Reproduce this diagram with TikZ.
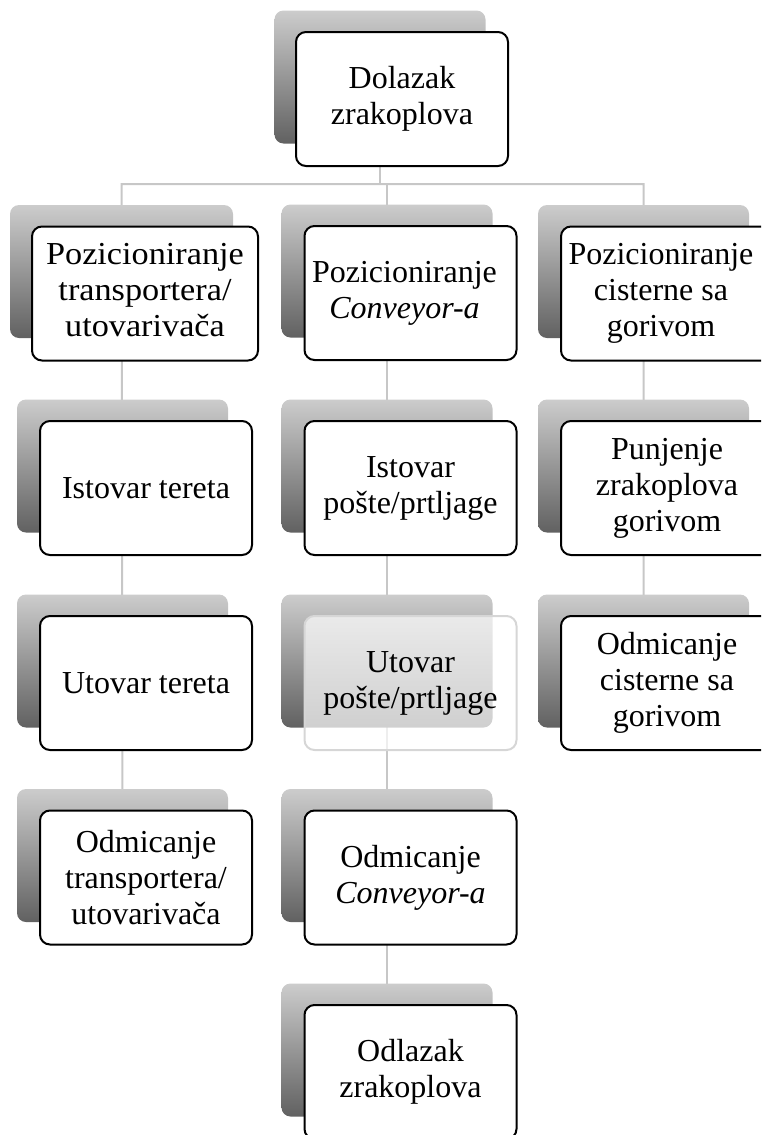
\documentclass[tikz,border=0pt]{standalone}
\usepackage{graphicx}
\usepackage{fontspec}
\setmainfont{Liberation Serif}
\pgfdeclarelayer{linelayer}
\pgfdeclarelayer{shadowlayer}
\pgfsetlayers{linelayer,shadowlayer,main}
\tikzset{
  box/.style={draw=black, line width=2pt, rounded corners=10pt, fill=white,
    minimum width=212pt, minimum height=134pt, inner sep=0pt, align=center,
    font=\fontsize{32}{36}\selectfont},
  ghost/.style={box, draw=black!16, fill opacity=0.7, text opacity=1},
  shadowbox/.style={rounded corners=9pt, top color=black!20, bottom color=black!62,
    minimum width=211pt, minimum height=133pt, inner sep=0pt, draw=none},
  conn/.style={draw=black!22, line width=2pt},
}
\newcommand\mylinepull{\hspace*{-12pt}}
\begin{document}
\begin{tikzpicture}[x=1pt,y=-1pt]
\clip (0,0) rectangle (761,1135);
\node[box] (top) at (402,99) {Dolazak\\zrakoplova};
\node[box, minimum width=226pt] (a1) at (145,293.5)
  {\scalebox{1.07}[1]{\begin{tabular}{@{}c@{}}Pozicioniranje\\transportera/\\utovarivača\end{tabular}}};
\node[box] (a2) at (146,488) {Istovar tereta};
\node[box] (a3) at (146,683) {Utovar tereta};
\node[box] (a4) at (146,877.5) {Odmicanje\\transportera/\\utovarivača};
\node[box] (b1) at (410.5,293) {\mylinepull Pozicioniranje\\\mylinepull\textit{Conveyor-a}};
\node[box] (b2) at (410.5,488) {Istovar\\pošte/prtljage};
\node[ghost] (b3) at (410.5,683) {Utovar\\pošte/prtljage};
\node[box] (b4) at (410.5,877.5) {Odmicanje\\\textit{Conveyor-a}};
\node[box] (b5) at (410.5,1072) {Odlazak\\zrakoplova};
\node[box] (c1) at (667,293.5) {\mylinepull Pozicioniranje\\\mylinepull cisterne sa\\\mylinepull gorivom};
\node[box] (c2) at (667,488) {Punjenje\\zrakoplova\\gorivom};
\node[box] (c3) at (667,683) {Odmicanje\\cisterne sa\\gorivom};
\begin{pgfonlayer}{shadowlayer}
\node[shadowbox] (stop) at ([shift={(-22,-22)}]top.center) {};
\node[shadowbox, minimum width=223pt] (sa1) at ([shift={(-23.5,-22)}]a1.center) {};
\foreach \n in {a2,a3,a4,b1,b2,b3,b4,b5,c1,c2,c3}{
  \node[shadowbox] (s\n) at ([shift={(-23.5,-22)}]\n.center) {};
}
\end{pgfonlayer}
\begin{pgfonlayer}{linelayer}
\coordinate (hl) at (0,184);
\draw[conn] (stop.center) -- (stop.center |- hl);
\draw[conn] (sa4.center) -- (sa1.center |- hl) -- (sc1.center |- hl) -- (sc3.center);
\draw[conn] (sb1.center |- hl) -- (sb5.center);
\end{pgfonlayer}
\end{tikzpicture}
\end{document}
